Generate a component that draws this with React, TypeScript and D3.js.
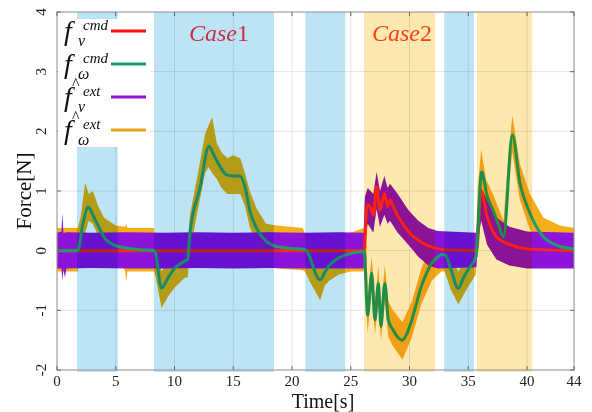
import React from 'react';
import * as d3 from 'd3';

const W = 592;
const H = 412;
const SERIF = '"Liberation Serif", "Times New Roman", serif';

const X_TICKS = [0, 5, 10, 15, 20, 25, 30, 35, 40, 44];
const Y_TICKS = [-2, -1, 0, 1, 2, 3, 4];

// shaded intervals [start, end] in seconds
const BLUE_BANDS = [[1.7, 5.17], [8.26, 18.47], [21.13, 24.54], [32.96, 35.49]];
const ORANGE_BANDS = [[26.13, 32.17], [35.74, 40.43]];

// f_v^cmd  [t, N]
const F_V_CMD = [
  [0, 0], [26.15, 0], [26.3, 0.55], [26.44, 0.77], [26.7, 0.72], [26.92, 0.6], [27.2, 1.07],
  [27.49, 0.68], [27.86, 0.96], [28.14, 0.74], [28.34, 0.85], [28.7, 0.7], [29.05, 0.57],
  [29.5, 0.43], [29.9, 0.32], [30.3, 0.24], [30.75, 0.18], [31.2, 0.12], [31.6, 0.08],
  [32.45, 0.03], [33.5, 0.01], [35.7, 0], [36.1, 1.0], [36.6, 0.57], [37.0, 0.36],
  [37.4, 0.23], [38.0, 0.15], [38.55, 0.1], [40.0, 0.03], [44, 0],
];

// f_w^cmd  [t, N]
const F_W_CMD = [
  [0, 0], [1.76, 0], [2.2, 0.45], [2.67, 0.73], [3.0, 0.62], [3.5, 0.42], [4.09, 0.2],
  [4.6, 0.12], [5.2, 0.07], [6.0, 0.04], [6.9, 0.02], [8.3, 0], [8.9, -0.63], [9.4, -0.47],
  [10.04, -0.29], [10.5, -0.22], [10.9, -0.17], [11.12, -0.14], [11.32, 0.3], [12.17, 1.05],
  [12.94, 1.75], [13.3, 1.62], [13.87, 1.41], [14.44, 1.27], [15.0, 1.25], [15.57, 1.25],
  [16.0, 1.07], [16.4, 0.68], [17.0, 0.37], [17.84, 0.15], [18.7, 0.07], [19.8, 0.04],
  [21.1, 0.02], [22.4, -0.49], [22.8, -0.36], [23.2, -0.24], [24.0, -0.12], [24.9, -0.05],
  [26.15, -0.02], [26.44, -1.08], [26.78, -0.38], [27.06, -1.16], [27.35, -0.55],
  [27.57, -1.27], [27.9, -0.55], [28.2, -1.16], [28.6, -1.33], [29.0, -1.45], [29.4, -1.5],
  [29.8, -1.38], [30.2, -1.16], [30.6, -0.88], [31.0, -0.6], [31.45, -0.38], [31.9, -0.21],
  [32.3, -0.12], [32.7, -0.07], [33.0, -0.07], [33.5, -0.3], [34.15, -0.63], [34.6, -0.45],
  [35.15, -0.27], [35.66, -0.1], [36.14, 1.32], [36.6, 0.92], [37.1, 0.68], [37.6, 0.42],
  [38.0, 0.23], [38.75, 1.94], [39.4, 1.13], [40.25, 0.63], [40.8, 0.4], [41.4, 0.23],
  [42.0, 0.14], [42.8, 0.07], [44, 0.03],
];

// f_v^ext estimate, noisy band  [t, low, high]
const F_V_EXT = [
  [0, -0.3, 0.3], [0.38, -0.3, 0.32], [0.45, -0.5, 0.63], [0.55, -0.32, 0.3], [0.68, -0.45, 0.3],
  [0.8, -0.3, 0.31], [3, -0.29, 0.3], [6, -0.3, 0.31], [9, -0.3, 0.3], [12, -0.29, 0.31],
  [15, -0.3, 0.3], [18, -0.29, 0.31], [21, -0.3, 0.3], [24, -0.3, 0.31], [26.1, -0.3, 0.3],
  [26.2, 0.1, 0.9], [26.44, 0.45, 1.05], [26.92, 0.3, 0.95], [27.2, 0.7, 1.32], [27.49, 0.4, 1.0],
  [27.86, 0.6, 1.25], [28.14, 0.45, 1.05], [28.34, 0.5, 1.12], [29.0, 0.3, 0.95],
  [29.9, 0.1, 0.68], [30.75, -0.1, 0.5], [31.6, -0.25, 0.38], [32.4, -0.3, 0.33],
  [35.7, -0.28, 0.3], [35.85, 0.2, 0.9], [36.1, 0.5, 1.05], [36.6, 0.1, 0.85],
  [37.4, -0.15, 0.55], [38.5, -0.25, 0.4], [40.0, -0.3, 0.32], [44, -0.3, 0.3],
];

// f_w^ext estimate, noisy band  [t, low, high]
const F_W_EXT = [
  [0, -0.35, 0.38], [1.76, -0.35, 0.38], [2.0, -0.1, 0.55], [2.4, 0.3, 1.14], [2.7, 0.5, 0.95],
  [3.05, 0.45, 1.0], [3.5, 0.25, 0.75], [4.0, 0.1, 0.55], [5.0, -0.05, 0.42], [5.8, -0.35, 0.4],
  [5.9, -0.52, 0.45], [6.0, -0.35, 0.38], [8.25, -0.35, 0.38], [8.4, -0.45, 0.1],
  [8.9, -0.96, -0.35], [9.5, -0.75, -0.15], [10.0, -0.62, 0.05], [10.9, -0.45, 0.15],
  [11.12, -0.45, 0.15], [11.32, 0.0, 0.6], [12.0, 0.7, 1.3], [12.6, 1.3, 1.95],
  [12.9, 1.4, 2.1], [13.2, 1.3, 2.24], [13.6, 1.2, 1.8], [14.0, 1.05, 1.65], [14.5, 0.95, 1.55],
  [15.0, 0.95, 1.6], [15.6, 0.95, 1.55], [16.0, 0.75, 1.3], [16.4, 0.4, 1.0], [17.0, 0.1, 0.7],
  [17.8, -0.1, 0.45], [18.7, -0.3, 0.42], [20.9, -0.33, 0.38], [21.1, -0.35, 0.3],
  [21.6, -0.55, 0.05], [22.4, -0.83, -0.2], [22.8, -0.58, 0.0], [23.2, -0.5, 0.1],
  [24.0, -0.4, 0.2], [25.0, -0.35, 0.3], [26.1, -0.35, 0.38], [26.15, -0.3, 0.45],
  [26.3, -0.9, 0.35], [26.44, -1.38, -0.75], [26.78, -0.65, -0.1], [27.06, -1.4, -0.85],
  [27.35, -0.85, -0.25], [27.57, -1.5, -0.95], [27.9, -0.85, -0.25], [28.2, -1.45, -0.85],
  [28.6, -1.6, -1.0], [29.4, -1.83, -1.2], [30.2, -1.45, -0.85], [31.0, -0.9, -0.3],
  [31.9, -0.5, 0.1], [32.7, -0.35, 0.25], [33.0, -0.35, 0.25], [33.5, -0.65, -0.05],
  [34.15, -0.9, -0.35], [35.15, -0.55, 0.0], [35.66, -0.4, 0.2], [35.8, 0.2, 1.0],
  [36.1, 1.0, 1.7], [36.5, 0.6, 1.2], [37.1, 0.4, 0.95], [38.0, 0.0, 0.5], [38.3, 0.8, 1.3],
  [38.75, 1.65, 2.27], [39.4, 0.85, 1.45], [40.25, 0.35, 0.95], [41.4, 0.1, 0.55],
  [42.8, -0.2, 0.42], [44, -0.3, 0.38],
];

const LEGEND_SUP = ['cmd', 'cmd', 'ext', 'ext'];
const LEGEND_SUB = ['v', 'ω', 'v', 'ω'];
const LEGEND_HAT = [false, false, true, true];
const LEGEND_COLORS = ['#ff1010', '#1a9b6e', '#9a10d8', '#e8a012'];

const C_RED = '#ff2418';
const C_GREEN = '#1f9c6a';
const C_PURPLE = '#8c14d8';
const C_ORANGE = '#f2a600';

export default function App() {
  const x = d3.scaleLinear().domain([0, 44]).range([57, 574]);
  const y = d3.scaleLinear().domain([-2, 4]).range([370, 12]);
  const [x0, x1] = x.range();
  const [yb, yt] = y.range();

  const line = d3.line<number[]>().x(d => x(d[0])).y(d => y(d[1])).curve(d3.curveMonotoneX);
  const area = d3.area<number[]>().x(d => x(d[0])).y0(d => y(d[1])).y1(d => y(d[2]));

  return (
    <svg width={W} height={H} style={{ position: 'absolute', left: 0, top: 0, background: '#fff' }}>
      <defs>
        <clipPath id="plot">
          <rect x={x0} y={yt} width={x1 - x0} height={yb - yt} />
        </clipPath>
      </defs>
      <rect width={W} height={H} fill="#fff" />

      {/* grid */}
      {X_TICKS.map(t => (
        <line key={'gx' + t} x1={x(t)} x2={x(t)} y1={yt} y2={yb} stroke="#e4e4e4" strokeWidth={1} />
      ))}
      {Y_TICKS.map(t => (
        <line key={'gy' + t} x1={x0} x2={x1} y1={y(t)} y2={y(t)} stroke="#e4e4e4" strokeWidth={1} />
      ))}

      <g clipPath="url(#plot)">
        <path d={area(F_W_EXT) || ''} fill={C_ORANGE} opacity={0.9} />
        <path d={area(F_V_EXT) || ''} fill={C_PURPLE} />
        <path d={line(F_V_CMD) || ''} fill="none" stroke={C_RED} strokeWidth={3} />
        <path d={line(F_W_CMD) || ''} fill="none" stroke={C_GREEN} strokeWidth={3} />
      </g>

      {/* shaded intervals, multiplied over the traces */}
      <g>
        {BLUE_BANDS.map((b, i) => (
          <rect key={'b' + i} x={x(b[0])} y={yt} width={x(b[1]) - x(b[0])} height={yb - yt + 2}
            fill="#bde4f5" style={{ mixBlendMode: 'multiply' }} />
        ))}
        {ORANGE_BANDS.map((b, i) => (
          <rect key={'o' + i} x={x(b[0])} y={yt} width={x(b[1]) - x(b[0])} height={yb - yt + 2}
            fill="#fde8b0" style={{ mixBlendMode: 'multiply' }} />
        ))}
      </g>

      {/* frame and ticks */}
      <rect x={x0} y={yt} width={x1 - x0} height={yb - yt} fill="none" stroke="#9a9a9a" strokeWidth={1} />
      {X_TICKS.map(t => (
        <g key={'tx' + t}>
          <line x1={x(t)} x2={x(t)} y1={yb} y2={yb - 4} stroke="#666" />
          <line x1={x(t)} x2={x(t)} y1={yt} y2={yt + 4} stroke="#666" />
          <text x={x(t)} y={386} textAnchor="middle" fontFamily={SERIF} fontSize={15} fill="#222">{t}</text>
        </g>
      ))}
      {Y_TICKS.map(t => (
        <g key={'ty' + t}>
          <line x1={x0} x2={x0 + 4} y1={y(t)} y2={y(t)} stroke="#666" />
          <line x1={x1} x2={x1 - 4} y1={y(t)} y2={y(t)} stroke="#666" />
          <text transform={`translate(46,${y(t)}) rotate(-90)`} textAnchor="middle"
            fontFamily={SERIF} fontSize={15} fill="#222">{t}</text>
        </g>
      ))}

      <text transform={`translate(31,${(yt + yb) / 2}) rotate(-90)`} textAnchor="middle"
        fontFamily={SERIF} fontSize={21} fill="#111">Force[N]</text>
      <text x={323} y={408} textAnchor="middle" fontFamily={SERIF} fontSize={20} fill="#111">Time[s]</text>

      {/* legend */}
      <rect x={58} y={19} width={92} height={128} fill="#fff" />
      {LEGEND_SUP.map((s, i) => {
        const L = 31 + 33 * i;
        return (
          <g key={'lg' + i} fontFamily={SERIF} fill="#111">
            {LEGEND_HAT[i] && <text x={72} y={L - 8} fontSize={16}>^</text>}
            <text x={64} y={L + 9} fontSize={28} fontStyle="italic">f</text>
            <text x={83} y={L - 1} fontSize={15} fontStyle="italic">{s}</text>
            <text x={78} y={L + 15} fontSize={16} fontStyle="italic">{LEGEND_SUB[i]}</text>
            <line x1={111} x2={146} y1={L} y2={L} stroke={LEGEND_COLORS[i]} strokeWidth={3} />
          </g>
        );
      })}

      <text x={189} y={41} fontFamily={SERIF} fontSize={24} fill="#c8304a">
        <tspan fontStyle="italic">Case</tspan><tspan>1</tspan>
      </text>
      <text x={372} y={41} fontFamily={SERIF} fontSize={24} fill="#ff4010">
        <tspan fontStyle="italic">Case</tspan><tspan>2</tspan>
      </text>
    </svg>
  );
}
